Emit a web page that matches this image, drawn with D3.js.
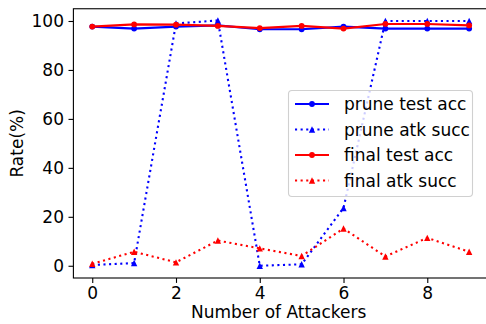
<!DOCTYPE html>
<html><head><meta charset="utf-8">
<script src="https://cdn.jsdelivr.net/npm/d3@7"></script>
<style>html,body{margin:0;padding:0;background:#fff;} svg{display:block;font-family:"DejaVu Sans",sans-serif;}</style>
</head><body>
<svg id="c" width="486" height="324"></svg>
<script>
const attackers = [0,1,2,3,4,5,6,7,8,9];
const pruneTestAcc = [97.7,96.9,97.7,98.2,96.6,96.6,97.7,96.9,96.9,96.9];
const pruneAtkSucc = [0.3,1.1,99.0,100.2,0.0,0.6,23.6,100.0,100.0,100.0];
const finalTestAcc = [97.7,98.6,98.5,98.0,97.1,98.0,96.9,98.8,98.8,98.2];
const finalAtkSucc = [0.8,5.7,1.4,10.3,7.1,4.0,15.2,3.8,11.4,5.7];
const xTicks = [0,2,4,6,8];
const yTicks = [0,20,40,60,80,100];
const seriesNames = ["prune test acc","prune atk succ","final test acc","final atk succ"];

const series = [
  {name: seriesNames[0], values: pruneTestAcc, color: "#0000ff", dotted: false, marker: "circle"},
  {name: seriesNames[1], values: pruneAtkSucc, color: "#0000ff", dotted: true, marker: "triangle"},
  {name: seriesNames[2], values: finalTestAcc, color: "#ff0000", dotted: false, marker: "circle"},
  {name: seriesNames[3], values: finalAtkSucc, color: "#ff0000", dotted: true, marker: "triangle"}
];

const svg = d3.select("#c");
const L = 73.4, R = 488, T = 8.75, B = 278;
const x = d3.scaleLinear().domain([-0.45, 9.45]).range([L, R]);
const y = d3.scaleLinear().domain([-5, 105]).range([B, T]);
const FS = 17;
const LW = 2.1;

const clip = svg.append("defs").append("clipPath").attr("id","clp").append("rect")
  .attr("x", L).attr("y", T).attr("width", R-L).attr("height", B-T);

function triPath(cx, cy, s) {
  return `M${cx},${cy-s}L${cx+s},${cy+s}L${cx-s},${cy+s}Z`;
}
function drawMarker(g, m, cx, cy, color) {
  if (m === "circle") {
    g.append("circle").attr("cx", cx).attr("cy", cy).attr("r", 2.9).attr("fill", color);
  } else {
    g.append("path").attr("d", triPath(cx, cy, 3.2)).attr("fill", color);
  }
}

const plot = svg.append("g").attr("clip-path","url(#clp)");
const line = d3.line().x((d,i) => x(attackers[i])).y(d => y(d));
series.forEach(s => {
  plot.append("path").attr("d", line(s.values)).attr("fill","none")
    .attr("stroke", s.color).attr("stroke-width", LW)
    .attr("stroke-dasharray", s.dotted ? "2.1,3.5" : null);
  const mg = plot.append("g");
  s.values.forEach((v,i) => drawMarker(mg, s.marker, x(attackers[i]), y(v), s.color));
});

// axes
const xa = svg.append("g").attr("transform", `translate(0,${B})`)
  .call(d3.axisBottom(x).tickValues(xTicks).tickFormat(d3.format("d")).tickSize(4.9).tickPadding(4.5));
const ya = svg.append("g").attr("transform", `translate(${L},0)`)
  .call(d3.axisLeft(y).tickValues(yTicks).tickFormat(d3.format("d")).tickSize(4.9).tickPadding(4.5));
[xa, ya].forEach(a => {
  a.select(".domain").remove();
  a.selectAll("line").attr("stroke","#000").attr("stroke-width",1.1);
  a.selectAll("text").attr("font-size", FS).attr("fill","#000").attr("font-family","DejaVu Sans");
});
// frame
svg.append("rect").attr("x", L).attr("y", T).attr("width", R-L).attr("height", B-T)
  .attr("fill","none").attr("stroke","#000").attr("stroke-width",1.1);

svg.append("text").attr("x", (L+R)/2 - 2).attr("y", 318).attr("text-anchor","middle")
  .attr("font-size", FS).text("Number of Attackers");
svg.append("text").attr("transform", `translate(23,${(T+B)/2}) rotate(-90)`)
  .attr("text-anchor","middle").attr("font-size", FS).text("Rate(%)");

// legend
const lg = svg.append("g");
lg.append("rect").attr("x", 288.5).attr("y", 90.5).attr("width", 184).attr("height", 106)
  .attr("rx", 3.5).attr("fill","#fff").attr("fill-opacity",0.8)
  .attr("stroke","#d0d0d0").attr("stroke-width",1.1);
const rowY = [104, 129.5, 155, 180.5];
series.forEach((s,i) => {
  const yy = rowY[i];
  lg.append("line").attr("x1", 295).attr("x2", 329).attr("y1", yy).attr("y2", yy)
    .attr("stroke", s.color).attr("stroke-width", LW)
    .attr("stroke-dasharray", s.dotted ? "2.1,3.5" : null);
  drawMarker(lg, s.marker, 312, yy, s.color);
  lg.append("text").attr("x", 344).attr("y", yy + 6).attr("font-size", FS).text(s.name);
});
</script>
</body></html>
